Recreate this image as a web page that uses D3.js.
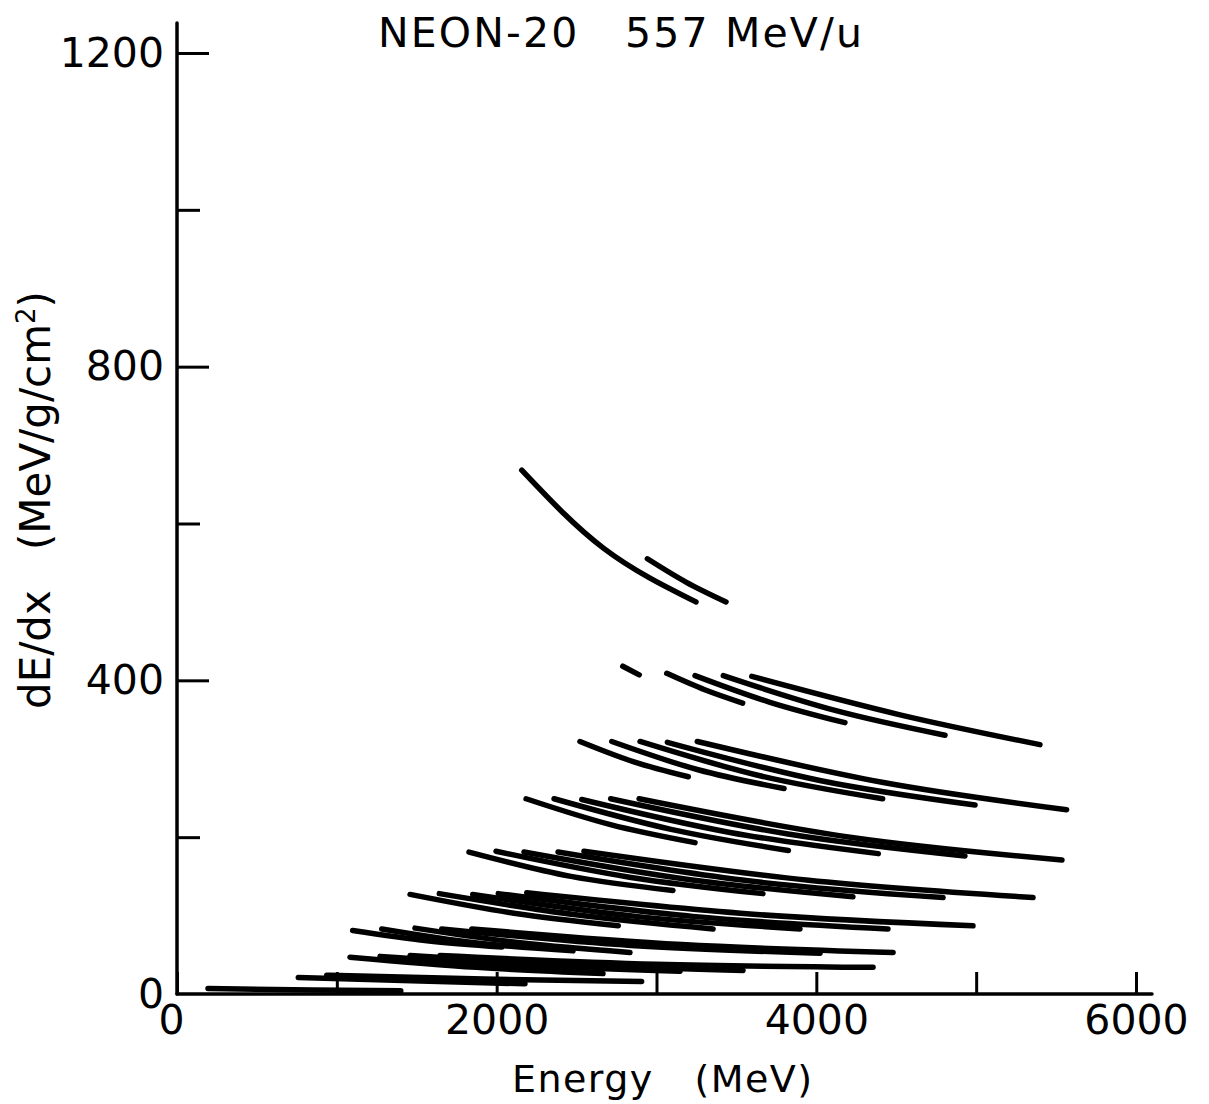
<!DOCTYPE html>
<html>
<head>
<meta charset="utf-8">
<script src="https://cdn.jsdelivr.net/npm/d3@7"></script>
<style>
  html, body { margin: 0; padding: 0; background: #fff; }
  svg { display: block; }
  text { font-family: "DejaVu Sans", sans-serif; fill: #000; }
</style>
</head>
<body>
<svg id="chart" width="1209" height="1104"></svg>
<script>
// ---- Data (Energy MeV, dE/dx MeV/g/cm^2) ----
const titleText = "NEON-20   557 MeV/u";
const xLabelText = "Energy   (MeV)";
const xTicks = [0, 1000, 2000, 3000, 4000, 5000, 6000];
const xTickLabels = ["0", "", "2000", "", "4000", "", "6000"];
const yTicks = [0, 200, 400, 600, 800, 1000, 1200];
const yTickLabels = ["0", "", "400", "", "800", "", "1200"];

const groupTop = [
  [[2157, 668], [2672, 568], [3247, 500]],
  [[2943, 555], [3187, 525], [3435, 500]]
];
const group400 = [
  [[2789, 418], [2892, 407]],
  [[3064, 409], [3302, 388], [3539, 371]],
  [[3241, 406], [3710, 372], [4179, 346]],
  [[3418, 406], [4111, 362], [4805, 330]],
  [[3596, 405], [4524, 356], [5399, 318]]
];
const group320 = [
  [[2521, 322], [2859, 296], [3199, 277]],
  [[2720, 322], [3260, 286], [3798, 262]],
  [[2897, 322], [3654, 278], [4415, 249]],
  [[3068, 321], [4029, 272], [4993, 241]],
  [[3255, 322], [4411, 270], [5566, 235]]
];
const group250 = [
  [[2184, 249], [2712, 216], [3241, 193]],
  [[2359, 249], [3091, 210], [3825, 183]],
  [[2532, 248], [3460, 206], [4388, 179]],
  [[2713, 249], [3823, 204], [4930, 176]],
  [[2891, 249], [4211, 200], [5537, 171]]
];
const group180 = [
  [[1827, 181], [2465, 150], [3103, 132]],
  [[1996, 182], [2831, 149], [3666, 128]],
  [[2171, 181], [3200, 146], [4229, 124]],
  [[2384, 181], [3588, 144], [4793, 123]],
  [[2546, 182], [3951, 145], [5356, 123]]
];
const group120 = [
  [[1458, 127], [2108, 103], [2761, 87]],
  [[1641, 128], [2496, 101], [3354, 83]],
  [[1850, 127], [2872, 99], [3898, 83]],
  [[2010, 128], [3228, 99], [4448, 83]],
  [[2188, 129], [3585, 102], [4980, 87]]
];
const group80 = [
  [[1099, 81], [1564, 68], [2032, 60]],
  [[1281, 83], [1877, 65], [2478, 55]],
  [[1489, 84], [2162, 65], [2834, 53]],
  [[1656, 83], [2841, 62], [4023, 52]],
  [[1844, 83], [3160, 63], [4480, 53]]
];
const group60 = [
  [[1082, 47], [1874, 34], [2665, 26]],
  [[1270, 48], [2209, 36], [3147, 29]],
  [[1458, 49], [2500, 37], [3541, 30]],
  [[1646, 49], [3000, 38], [4355, 34]]
];
const group25 = [
  [[759, 21], [1467, 17], [2177, 13]],
  [[937, 24], [1921, 19], [2907, 16]]
];
const group0 = [
  [[194, 7], [850, 5], [1400, 4]]
];

const allSegments = [].concat(groupTop, group400, group320, group250, group180,
                              group120, group80, group60, group25, group0);

// ---- Drawing ----
const svg = d3.select("#chart");
svg.append("rect").attr("width", 1209).attr("height", 1104).attr("fill", "#fff");

const x = d3.scaleLinear().domain([0, 6000]).range([177, 1136]);
const y = d3.scaleLinear().domain([0, 1200]).range([994, 53]);

// axis lines
svg.append("line").attr("x1", x(0)).attr("x2", 1152).attr("y1", y(0)).attr("y2", y(0))
  .attr("stroke", "#000").attr("stroke-width", 3.5).attr("stroke-linecap", "round");
svg.append("line").attr("x1", x(0)).attr("x2", x(0)).attr("y1", y(0)).attr("y2", 23)
  .attr("stroke", "#000").attr("stroke-width", 3.5).attr("stroke-linecap", "round");

// x axis ticks (inward)
const xAxis = d3.axisBottom(x).tickValues(xTicks)
  .tickFormat((d, i) => xTickLabels[i])
  .tickSizeInner(-22).tickSizeOuter(0).tickPadding(11);
const gx = svg.append("g").attr("transform", `translate(0,${y(0)})`).call(xAxis);
gx.select(".domain").remove();
gx.selectAll(".tick line").attr("stroke", "#000").attr("stroke-width", 3);
gx.selectAll(".tick text").attr("font-size", 41).attr("font-family", "DejaVu Sans, sans-serif")
  .attr("fill", "#000");
gx.selectAll(".tick").filter(d => d === 0).select("text").attr("dx", -6);

// y axis ticks (inward)
const majorY = d => d % 400 === 0;
const yAxis = d3.axisLeft(y).tickValues(yTicks)
  .tickFormat((d, i) => yTickLabels[i])
  .tickSizeInner(-30).tickSizeOuter(0).tickPadding(13);
const gy = svg.append("g").attr("transform", `translate(${x(0)},0)`).call(yAxis);
gy.select(".domain").remove();
gy.selectAll(".tick line").attr("stroke", "#000").attr("stroke-width", 3)
  .attr("x2", d => majorY(d) ? 32 : 23);
gy.selectAll(".tick text").attr("font-size", 41).attr("font-family", "DejaVu Sans, sans-serif")
  .attr("fill", "#000");
gy.selectAll(".tick").filter(d => d === 0).select("line").remove();

// curves
const line = d3.line().x(d => x(d[0])).y(d => y(d[1])).curve(d3.curveNatural);
svg.append("g").selectAll("path").data(allSegments).join("path")
  .attr("d", line)
  .attr("fill", "none")
  .attr("stroke", "#000")
  .attr("stroke-width", 5.5)
  .attr("stroke-linecap", "round");

// title
svg.append("text").attr("x", 620).attr("y", 47).attr("text-anchor", "middle")
  .attr("font-size", 41).attr("xml:space", "preserve").style("white-space", "pre")
  .attr("textLength", 484).attr("lengthAdjust", "spacing")
  .text(titleText);

// x label
svg.append("text").attr("x", 662).attr("y", 1092).attr("text-anchor", "middle")
  .attr("font-size", 38).attr("xml:space", "preserve").style("white-space", "pre")
  .attr("textLength", 300).attr("lengthAdjust", "spacing")
  .text(xLabelText);

// y label
const yl = svg.append("text")
  .attr("transform", "translate(50,500) rotate(-90)")
  .attr("text-anchor", "middle").attr("font-size", 42)
  .attr("xml:space", "preserve").style("white-space", "pre");
yl.append("tspan").text("dE/dx   (MeV/g/cm");
yl.append("tspan").attr("font-size", 26).attr("baseline-shift", "super").text("2");
yl.append("tspan").text(")");
</script>
</body>
</html>
